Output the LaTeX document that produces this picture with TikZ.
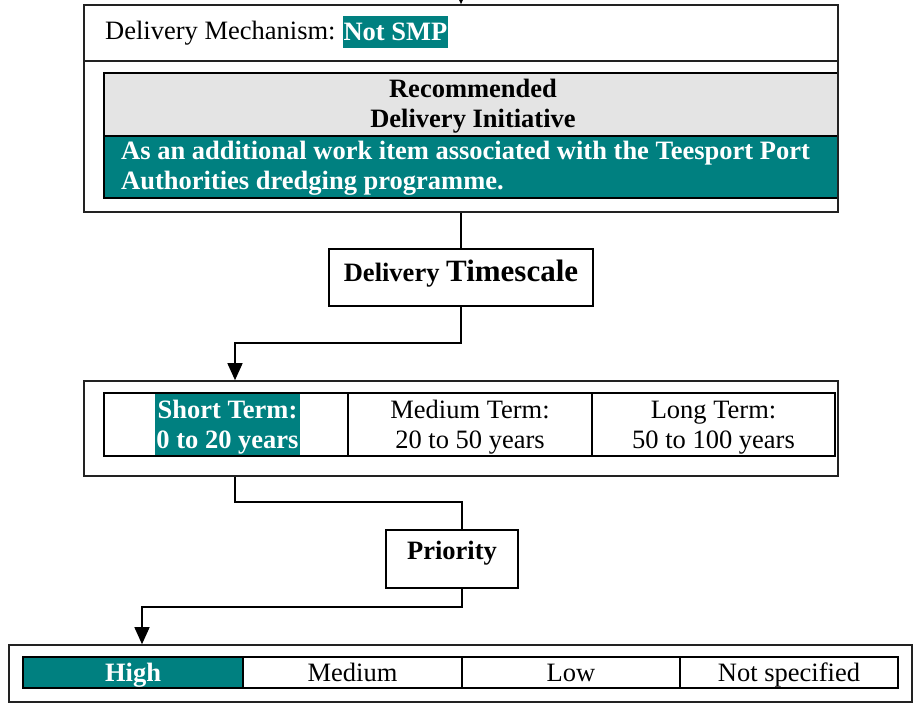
\documentclass[tikz,border=0pt]{standalone}
\usepackage{fontspec}
\setmainfont{Liberation Serif}
\usetikzlibrary{arrows.meta}
\definecolor{tealc}{HTML}{008080}
\definecolor{grayc}{HTML}{E4E4E4}
\definecolor{outc}{HTML}{222222}
\newcommand{\tnorm}{\fontsize{26.5}{30}\selectfont}
\newcommand{\tbold}{\fontsize{26.5}{30}\selectfont\bfseries}
\begin{document}
\begin{tikzpicture}[x=1pt,y=-1pt,
  outerbox/.style={draw=outc, line width=1.6pt, inner sep=0pt},
  tablecell/.style={draw=black, line width=2.4pt, inner sep=0pt, font=\tnorm, align=center},
  hl/.style={fill=tealc, text=white, inner sep=0pt, font=\tbold, align=center},
  label/.style={draw=black, line width=1.6pt, inner sep=0pt, font=\tbold, align=center},
  arr/.style={-{Triangle[width=15pt,length=17pt]}, line width=1.5pt},
  conn/.style={line width=1.5pt}]
\useasboundingbox (0,0) rectangle (913,703);
\clip (0,0) rectangle (913,703);

% top box
\node[outerbox, minimum width=754pt, minimum height=207pt] (topbox) at (461,108.5) {};
\draw[outc, line width=1.6pt] (84,61) -- (838,61);
\node[anchor=base west, inner sep=0pt, font=\tnorm] (mech) at (105,40) {Delivery Mechanism:};
\node[hl, minimum width=105pt, minimum height=32pt] (notsmp) at (395.5,32) {Not SMP};
\node[tablecell, fill=grayc, minimum width=734pt, minimum height=63pt] (rec) at (471,104.5) {};
\node[anchor=base, inner sep=0pt, font=\tbold, align=center] (rectext) at (473,128) {Recommended\\Delivery Initiative};
\node[tablecell, fill=tealc, minimum width=734pt, minimum height=62pt] (init) at (471,167) {};
\node[anchor=base west, inner sep=0pt, font=\tbold, text=white, align=left] (inittext) at (121,190)
  {As an additional work item associated with the Teesport Port\\Authorities dredging programme.};
\draw[outc, line width=1.6pt] (838,5) -- (838,212);

% timescale label
\node[label, minimum width=264pt, minimum height=57pt] (ts) at (461,277.5) {};
\node[anchor=base, inner sep=0pt, font=\tbold] (tstext) at (461,282)
  {Delivery {\fontsize{31}{34}\selectfont Timescale}};

% timescale options
\node[outerbox, minimum width=754pt, minimum height=95pt] (tsouter) at (461,428.5) {};
\node[hl, minimum width=145pt, minimum height=61pt] (shorthl) at (227.5,424.5) {};
\node[tablecell, minimum width=244pt, minimum height=63pt] (short) at (226,424.5) {};
\node[tablecell, minimum width=244pt, minimum height=63pt] (medium) at (470,424.5) {};
\node[tablecell, minimum width=243pt, minimum height=63pt] (long) at (713.5,424.5) {};
\node[anchor=base, inner sep=0pt, font=\tbold, text=white, align=center] (shorttext) at (227.5,448) {Short Term:\\0 to 20 years};
\node[anchor=base, inner sep=0pt, font=\tnorm, align=center] (medtext) at (470,448) {Medium Term:\\20 to 50 years};
\node[anchor=base, inner sep=0pt, font=\tnorm, align=center] (longtext) at (713.5,448) {Long Term:\\50 to 100 years};

% priority label
\node[label, minimum width=132pt, minimum height=58pt] (prio) at (452,559) {};
\node[anchor=base, inner sep=0pt, font=\tbold] (priotext) at (452,559) {Priority};

% priority options
\node[outerbox, minimum width=903pt, minimum height=57pt] (prouter) at (460.5,673.5) {};
\node[tablecell, fill=tealc, text=white, font=\tbold, text height=19pt, text depth=1pt, minimum width=220pt, minimum height=31pt] (high) at (133,672.5) {High};
\node[tablecell, text height=19pt, text depth=1pt, minimum width=219pt, minimum height=31pt] (pmed) at (352.5,672.5) {Medium};
\node[tablecell, text height=19pt, text depth=1pt, minimum width=218pt, minimum height=31pt] (plow) at (571,672.5) {Low};
\node[tablecell, text height=19pt, text depth=1pt, minimum width=218pt, minimum height=31pt] (pns) at (789,672.5) {Not specified};

% connectors
\coordinate (topin) at (461,-30);
\draw[arr] (topin) -- (topbox.north);
\draw[conn] (topbox.south) -- (ts.north);
\coordinate (j1) at (235,343);
\draw[arr] (ts.south) |- (j1) -- (j1 |- tsouter.north);
\coordinate (j2) at (235,502);
\coordinate (j3) at (462,502);
\draw[conn] (j2 |- tsouter.south) -- (j2) -- (j3) -- (j3 |- prio.north);
\coordinate (j4) at (462,607);
\coordinate (j5) at (142,607);
\draw[arr] (j4 |- prio.south) -- (j4) -- (j5) -- (j5 |- prouter.north);
\end{tikzpicture}
\end{document}
